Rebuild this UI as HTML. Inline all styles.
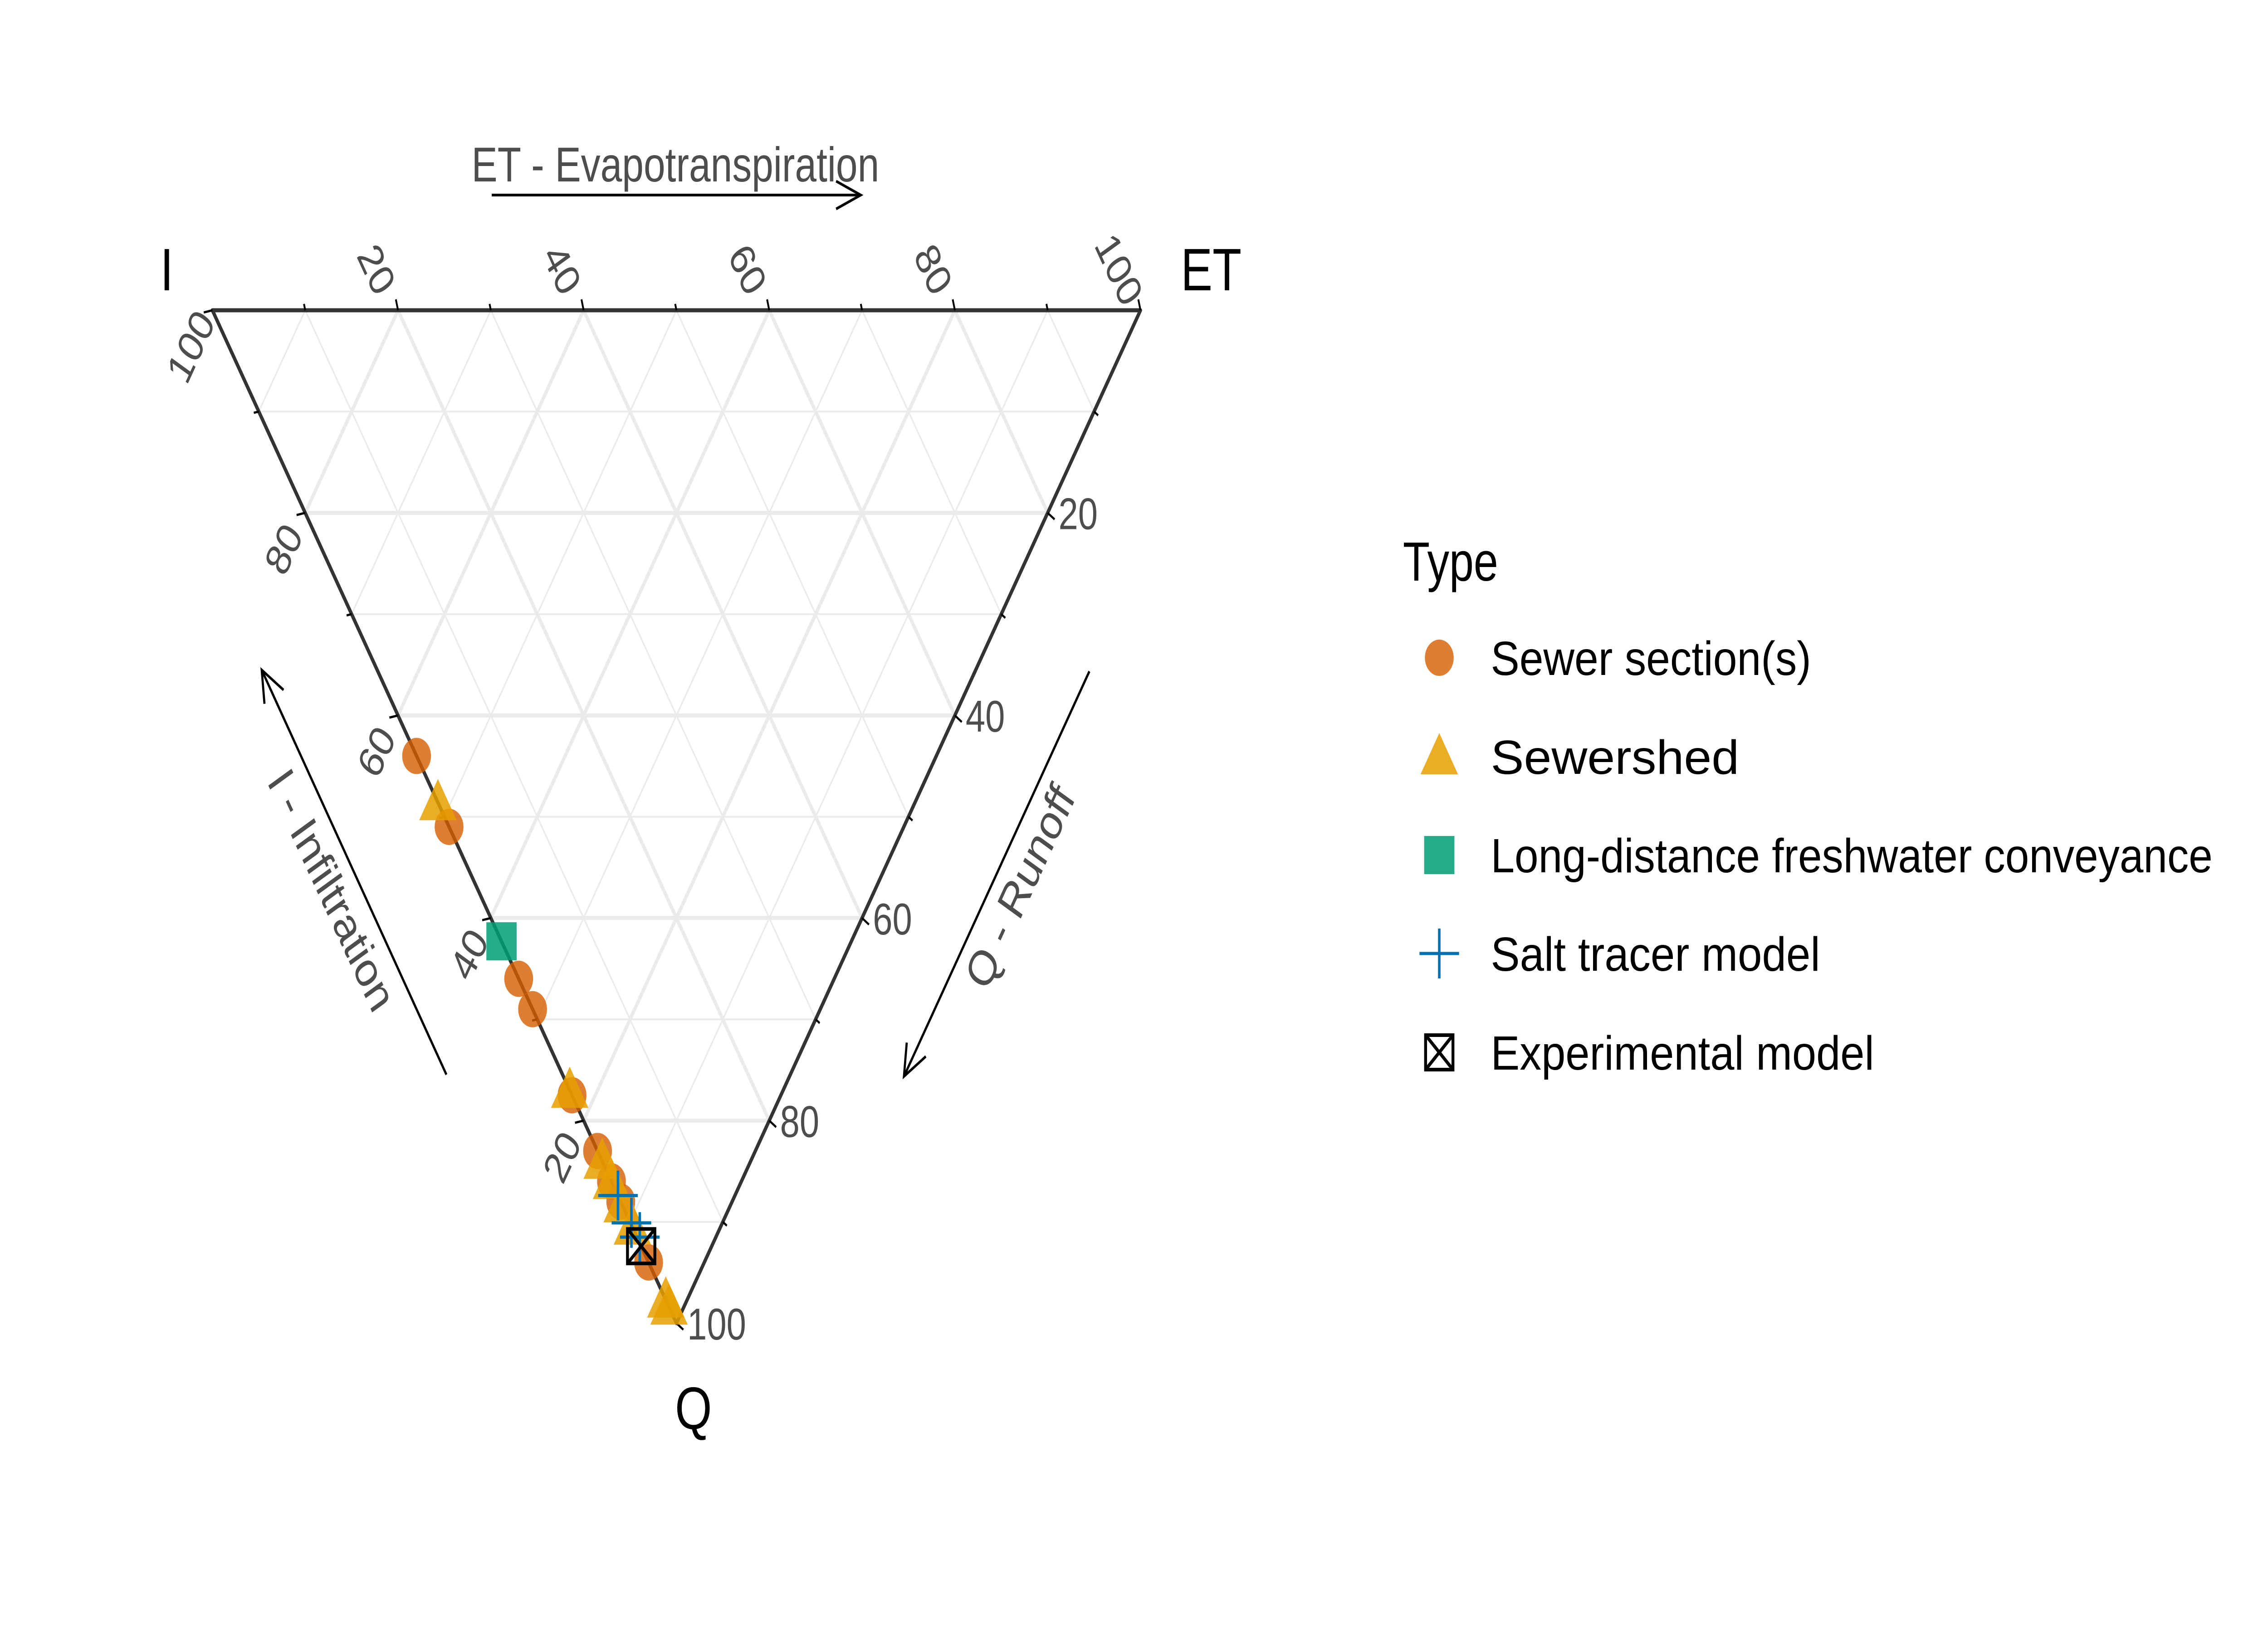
<!DOCTYPE html>
<html><head><meta charset="utf-8"><style>
html,body{margin:0;padding:0;background:#fff;overflow:hidden;width:100%;height:100%}
svg{display:block;width:100vw;height:100vh}
text{font-family:"Liberation Sans",Arial,sans-serif}
</style></head><body>
<svg id="chart" viewBox="0 0 6300 3600" preserveAspectRatio="none" xmlns="http://www.w3.org/2000/svg">
<rect width="6300" height="3600" fill="#fff"/>
<g id="grid"></g>
<g id="axes"></g>
<g id="points"></g>
<g id="legend"></g>
</svg>
<script>
// Data: [I, ET, Q] percentages
const sewerSection = [[56,0,44],[49,0,51],[34,0,66],[31,0,69],[22.5,0,77.5],[17,0,83],[14,0,86],[12,0,88],[6,0,94]];
const sewershed = [[51.4,0,48.6],[23,0,77],[16,0,84],[14,0,86],[11.7,0,88.3],[9.5,0,90.5],[2.3,0,97.7],[1.6,0,98.4]];
const conveyance = [[37.7,0,62.3]];
const saltTracer = [[12.6,0,87.4],[9.8,0.1,90.1],[8.2,0.3,91.5]];
const experimental = [[7.6,0,92.4]];
const tickValues = [20,40,60,80,100];
const legendLabels = ["Sewer section(s)","Sewershed","Long-distance freshwater conveyance","Salt tracer model","Experimental model"];

const NS="http://www.w3.org/2000/svg";
const VI=[590,684], VET=[3168,684], VQ=[1879,2917];
function pos(i,et,q){const s=i+et+q;return [(VI[0]*i+VET[0]*et+VQ[0]*q)/s,(VI[1]*i+VET[1]*et+VQ[1]*q)/s];}
function mk(tag,attrs,parent){const e=document.createElementNS(NS,tag);for(const k in attrs)e.setAttribute(k,attrs[k]);parent.appendChild(e);return e;}
const grid=document.getElementById('grid'),axes=document.getElementById('axes'),pts=document.getElementById('points'),leg=document.getElementById('legend');

for(let v=10;v<100;v+=10){
  const w=(v%20===0)?9:4;
  const lines=[[pos(v,100-v,0),pos(v,0,100-v)],[pos(100-v,v,0),pos(0,v,100-v)],[pos(100-v,0,v),pos(0,100-v,v)]];
  lines.forEach(l=>{
    const ln=mk('line',{x1:l[0][0],y1:l[0][1],x2:l[1][0],y2:l[1][1],stroke:'#ebebeb','stroke-width':w},grid);
    
    
  });
}
const tri=mk('polygon',{points:[VI,VET,VQ].map(p=>p.join(',')).join(' '),fill:'none',stroke:'#333','stroke-width':9,'stroke-linejoin':'round'},axes);



for(let v=10;v<=100;v+=10){
  const L=(v%20===0)?24:14;
  let p=pos(100-v,v,0); let t=mk('line',{x1:p[0],y1:p[1],x2:p[0]-L*0.25,y2:p[1]-L,stroke:'#000','stroke-width':5},axes);
  
  p=pos(v,0,100-v); t=mk('line',{x1:p[0],y1:p[1],x2:p[0]-L,y2:p[1]+L*0.2,stroke:'#000','stroke-width':5},axes);
  
  p=pos(0,100-v,v); t=mk('line',{x1:p[0],y1:p[1],x2:p[0]+L*0.8,y2:p[1]+L*0.6,stroke:'#000','stroke-width':5},axes);
  
}
tickValues.forEach(v=>{
  let p=pos(100-v,v,0);
  let tx=mk('text',{x:0,y:0,'font-size':98,fill:'#4d4d4d','text-anchor':'middle','dominant-baseline':'central',transform:`translate(${p[0]-60},${p[1]-90}) rotate(60)`},axes);
  tx.textContent=v;
  p=pos(v,0,100-v);
  tx=mk('text',{x:0,y:0,'font-size':98,fill:'#4d4d4d','text-anchor':'middle','dominant-baseline':'central',transform:`translate(${p[0]-60},${p[1]+80}) rotate(-60)`},axes);
  tx.textContent=v;
  p=pos(0,100-v,v);
  tx=mk('text',{x:p[0]+30,y:p[1]+36,'font-size':98,fill:'#4d4d4d'},axes);
  tx.textContent=v;
});
[["I",445,640],["ET",3280,640],["Q",1875,3150]].forEach(a=>{
  const tx=mk('text',{x:a[1],y:a[2],'font-size':132,fill:'#000'},axes);
  tx.textContent=a[0];
});
function arrow(x1,y1,x2,y2,name){
  const g=mk('g',{},axes);
  mk('line',{x1,y1,x2,y2,stroke:'#000','stroke-width':6},g);
  const a=Math.atan2(y2-y1,x2-x1),h=75;
  const p1=[x2-h*Math.cos(a-0.42),y2-h*Math.sin(a-0.42)],p2=[x2-h*Math.cos(a+0.42),y2-h*Math.sin(a+0.42)];
  mk('polyline',{points:`${p1.join(',')} ${x2},${y2} ${p2.join(',')}`,fill:'none',stroke:'#000','stroke-width':6},g);
}
arrow(1366,430,2391,430,'et-arrow');
arrow(1240,2369,727,1477,'i-arrow');
arrow(3026,1480,2511,2373,'q-arrow');
let tt=mk('text',{x:1876,y:400,'font-size':108,fill:'#4d4d4d','text-anchor':'middle'},axes);tt.textContent="ET - Evapotranspiration";

tt=mk('text',{x:0,y:0,'font-size':108,fill:'#4d4d4d','text-anchor':'middle','dominant-baseline':'central',transform:'translate(921,1962) rotate(60)'},axes);tt.textContent="I - Infiltration";

tt=mk('text',{x:0,y:0,'font-size':108,fill:'#4d4d4d','text-anchor':'middle','dominant-baseline':'central',transform:'translate(2833,1955) rotate(-60)'},axes);tt.textContent="Q - Runoff";


function circle(g,x,y){return mk('circle',{cx:x,cy:y,r:40,fill:'#D55E00','fill-opacity':0.8},g);}
function triangle(g,x,y){const s=52;return mk('polygon',{points:`${x},${y-s} ${x-s*1.0},${y+s*0.75} ${x+s*1.0},${y+s*0.75}`,fill:'#E69F00','fill-opacity':0.85},g);}
function square(g,x,y){return mk('rect',{x:x-42,y:y-42,width:84,height:84,fill:'#009E73','fill-opacity':0.85},g);}
function cross(g,x,y){return mk('path',{d:`M${x-55},${y}H${x+55}M${x},${y-55}V${y+55}`,stroke:'#0072B2','stroke-width':7,fill:'none'},g);}
function boxx(g,x,y){const s=38;return mk('path',{d:`M${x-s},${y-s}H${x+s}V${y+s}H${x-s}Z M${x-s},${y-s}L${x+s},${y+s}M${x+s},${y-s}L${x-s},${y+s}`,stroke:'#000','stroke-width':8,fill:'none'},g);}
const series=[[sewerSection,circle,'sewer-section-point'],[sewershed,triangle,'sewershed-point'],[conveyance,square,'conveyance-point'],[saltTracer,cross,'salt-tracer-point'],[experimental,boxx,'experimental-point']];
series.forEach(s=>{
  s[0].forEach(d=>{const p=pos(d[0],d[1],d[2]);const e=s[1](pts,p[0],p[1]);
    
    });
});
tt=mk('text',{x:3897,y:1280,'font-size':122,fill:'#000'},leg);tt.textContent="Type";

const ly=[1450,1668,1885,2102,2320];
const lw=[890,690,2005,915,1065];
legendLabels.forEach((lab,i)=>{
  const g=mk('g',{},leg);
  
  
  series[i][1](g,3998,ly[i]);
  const t=mk('text',{x:4141,y:ly[i]+38,'font-size':106,fill:'#000',textLength:lw[i],lengthAdjust:'spacingAndGlyphs'},g);t.textContent=lab;
});
</script>
</body></html>
